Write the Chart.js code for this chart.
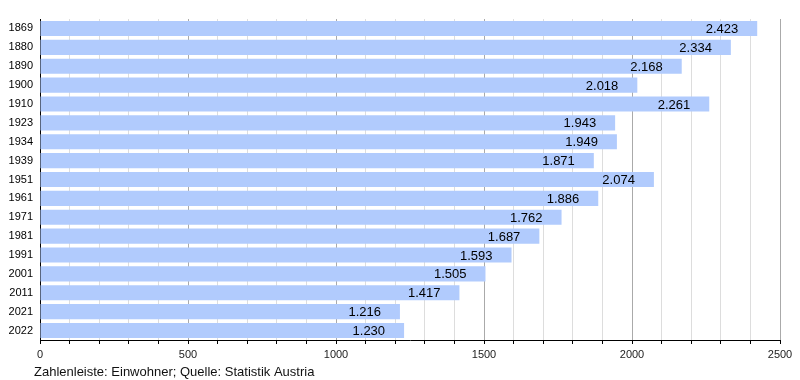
<!DOCTYPE html>
<html><head><meta charset="utf-8">
<script src="https://cdn.jsdelivr.net/npm/chart.js@4"></script>
<style>html,body{margin:0;padding:0;background:#fff}canvas{display:block}</style>
</head><body>
<canvas id="c" width="800" height="380"></canvas>
<script>
const years = ["1869","1880","1890","1900","1910","1923","1934","1939","1951","1961","1971","1981","1991","2001","2011","2021","2022"];
const population = [2423,2334,2168,2018,2261,1943,1949,1871,2074,1886,1762,1687,1593,1505,1417,1216,1230];
const xMax = 2500;
const footerText = "Zahlenleiste: Einwohner; Quelle: Statistik Austria";
const FONT = "'Liberation Sans', Arial, Helvetica, sans-serif";

function fmt(v){ const s=String(v); return s.length>3 ? s.slice(0,s.length-3)+"."+s.slice(-3) : s; }

const labelPlugin = {
  id:'labels',
  afterDatasetsDraw(chart){
    const ctx=chart.ctx; const meta=chart.getDatasetMeta(0);
    ctx.save();
    ctx.font="13px "+FONT; ctx.fillStyle="#000"; ctx.textAlign="right"; ctx.textBaseline="middle";
    meta.data.forEach((bar,i)=>{ ctx.fillText(fmt(population[i]), bar.x-19, bar.y+1); });
    ctx.font="13px "+FONT; ctx.fillStyle="#111"; ctx.textAlign="left";
    ctx.fillText(footerText, 34, 372);
    ctx.restore();
  }
};

new Chart(document.getElementById('c'),{
  type:'bar',
  data:{labels:years,datasets:[{data:population,backgroundColor:'#b1cbfd',borderWidth:0,categoryPercentage:0.8,barPercentage:1}]},
  options:{
    indexAxis:'y',responsive:false,animation:false,
    layout:{padding:{top:19,right:20,left:0,bottom:0}},
    plugins:{legend:{display:false},tooltip:{enabled:false}},
    scales:{
      x:{min:0,max:xMax,
        afterFit(s){s.height=40;},
        afterBuildTicks(s){const t=[];for(let v=0;v<=xMax;v+=100)t.push({value:v});s.ticks=t;},
        ticks:{autoSkip:false,maxRotation:0,padding:4,color:'#222',font:{family:FONT,size:11},
          callback(v){return v%500===0?String(v):'';}},
        grid:{color(c){const v=c.tick.value;return v%500===0?'#aaaaaa':'#dddddd';},lineWidth:1,tickLength:4,tickColor:'#000',drawOnChartArea:true},
        border:{display:true,color:'#000',width:1}
      },
      y:{
        afterFit(s){s.width=40;},
        ticks:{padding:7,color:'#000',font:{family:FONT,size:11}},
        grid:{display:false,drawTicks:false},
        border:{display:true,color:'#000',width:1}
      }
    }
  },
  plugins:[labelPlugin]
});
</script>
</body></html>
